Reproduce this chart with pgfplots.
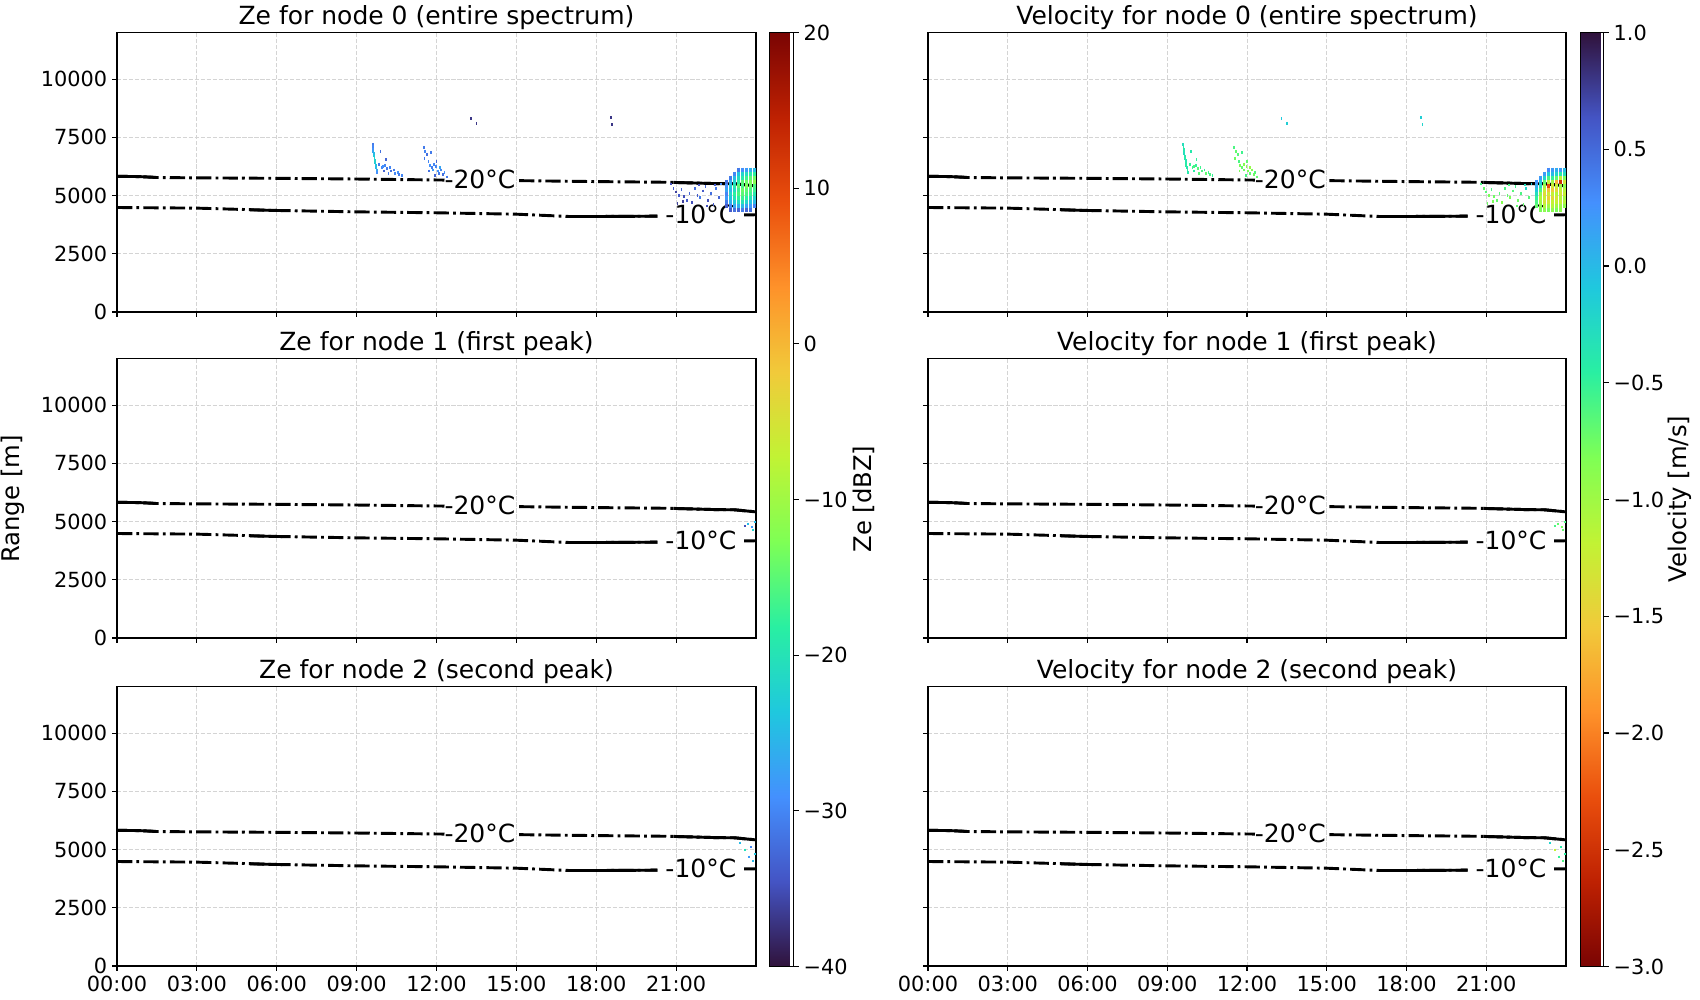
\documentclass[border=0pt]{standalone}
\usepackage{fontspec}
\setmainfont{DejaVu Sans}
\usepackage{pgfplots}
\usepackage{pgfplotstable}
\pgfplotsset{compat=1.18}

\newcommand{\ticksize}{\fontsize{15}{18}\selectfont}
\newcommand{\titlesize}{\fontsize{18}{21}\selectfont}
\newcommand{\labsize}{\fontsize{17.5}{21}\selectfont}
\newcommand{\clabsize}{\fontsize{18}{21}\selectfont}

\pgfplotsset{
  colormap={turbo}{rgb255(0cm)=(48,18,59); rgb255(1cm)=(68,84,196); rgb255(2cm)=(68,144,254);
    rgb255(3cm)=(31,200,222); rgb255(4cm)=(41,239,162); rgb255(5cm)=(126,255,85);
    rgb255(6cm)=(193,243,52); rgb255(7cm)=(241,202,58); rgb255(8cm)=(254,146,42);
    rgb255(9cm)=(234,79,13); rgb255(10cm)=(190,33,2); rgb255(11cm)=(122,4,3)},
  colormap={turbor}{rgb255(0cm)=(122,4,3); rgb255(1cm)=(190,33,2); rgb255(2cm)=(234,79,13);
    rgb255(3cm)=(254,146,42); rgb255(4cm)=(241,202,58); rgb255(5cm)=(193,243,52);
    rgb255(6cm)=(126,255,85); rgb255(7cm)=(41,239,162); rgb255(8cm)=(31,200,222);
    rgb255(9cm)=(68,144,254); rgb255(10cm)=(68,84,196); rgb255(11cm)=(48,18,59)},
  panel/.style={
    scale only axis, height=201.2pt,
    xmin=0, xmax=24, ymin=0, ymax=12000,
    scaled y ticks=false, scaled x ticks=false,
    xtick={0,3,...,21}, ytick={0,2500,5000,7500,10000},
    xticklabels={}, yticklabels={},
    grid=major,
    major grid style={dash pattern=on 3pt off 1.3pt, color=black!17, line width=0.7pt},
    tick align=outside, tick pos=left, major tick length=3.5pt,
    axis line style={line width=0.8pt},
    every tick/.style={line width=0.8pt, black},
    ticklabel style={font=\ticksize},
    title style={font=\titlesize, yshift=-7.8pt},
    /pgf/number format/assume math mode=true,
    clip=true,
  },
  radar/.style={scatter, only marks, mark=|,
    every mark/.append style={line width=1.3pt},
    scatter/use mapped color={draw=mapped color, fill=mapped color}},
  iso/.style={black, line width=2.1pt, dash pattern=on 11pt off 3pt on 2pt off 3pt},
  isos/.style={black, line width=2.1pt},
  leftlab/.style={yticklabels={0,2500,5000,7500,10000}},
  botlab/.style={xticklabels={00:00,03:00,06:00,09:00,12:00,15:00,18:00,21:00}},
  ze/.style={colormap name=turbo, point meta min=-40, point meta max=20},
  vel/.style={colormap name=turbor, point meta min=-3, point meta max=1},
}

\newcommand{\isotherms}{%
  \addplot[iso] coordinates {(0,5825)(0.8,5815)(1.5,5775)(3,5760)(6,5740)(9,5710)(12.3,5665)};
  \addplot[iso] coordinates {(15.1,5640)(18,5600)(20.7,5570)(22.5,5513)(23.2,5505)(24,5415)};
  \addplot[isos] coordinates {(0,5825)(0.8,5815)(1.4,5785)};
  \addplot[isos] coordinates {(20.9,5565)(22.5,5513)(23.2,5505)(24,5415)};
  \addplot[iso] coordinates {(0,4487)(3,4460)(6,4360)(9,4300)(12,4260)(15,4200)(17,4100)(18,4100)(20.3,4115)};
  \addplot[isos] coordinates {(5.0,4385)(6.2,4355)};
  \addplot[isos] coordinates {(17.0,4100)(18,4100)(20.3,4115)};
  \addplot[iso] coordinates {(23.55,4168)(24,4175)};
  \node[font=\clabsize, inner sep=0pt] at (axis cs:13.63,5700) {-20°C};
  \node[font=\clabsize, inner sep=0pt] at (axis cs:21.93,4180) {-10°C};
}

% node 0 : sparse pixels  (time [h], range [m], Ze [dBZ], velocity [m/s])
\pgfplotstableread{
x y ze vel
9.60 7200 -31 -0.30
9.61 7100 -30 -0.35
9.62 7000 -29 -0.40
9.63 6900 -27 -0.35
9.64 6800 -25 -0.30
9.66 6700 -23 -0.38
9.67 6600 -22 -0.42
9.69 6500 -22 -0.36
9.70 6400 -23 -0.40
9.72 6300 -24 -0.45
9.74 6200 -25 -0.38
9.76 6100 -27 -0.42
9.78 6000 -29 -0.40
9.85 6350 -31 -0.50
9.95 6200 -30 -0.55
10.00 6250 -29 -0.60
10.08 6300 -30 -0.50
10.15 6150 -31 -0.65
10.25 6200 -30 -0.55
10.30 6050 -32 -0.60
10.40 6100 -31 -0.50
10.45 5950 -30 -0.70
10.55 6000 -29 -0.55
10.60 5900 -31 -0.60
10.70 5850 -30 -0.50
10.02 6050 -33 -0.45
10.20 5950 -31 -0.65
9.90 6900 -32 -0.40
10.10 6550 -33 -0.50
11.52 7050 -31 -0.60
11.58 6900 -30 -0.70
11.65 6750 -32 -0.65
11.55 6600 -31 -0.75
11.70 6450 -30 -0.60
11.75 6300 -29 -0.80
11.82 6200 -31 -0.70
11.90 6350 -30 -0.85
11.88 6100 -28 -0.75
11.98 6250 -30 -0.90
12.05 6050 -29 -0.80
12.10 5950 -31 -0.70
12.18 6100 -30 -0.85
12.25 5900 -32 -0.75
12.30 6000 -29 -0.65
12.38 5800 -31 -0.70
11.95 5850 -33 -0.60
11.72 6050 -32 -0.80
12.12 6200 -27 -0.95
12.00 6450 -33 -0.70
11.80 6850 -31 -0.55
13.30 8300 -37 -0.10
13.50 8100 -37 -0.15
18.60 8050 -37 -0.20
18.55 8350 -37 -0.15
20.80 5500 -35 -0.60
20.90 5300 -34 -0.70
21.00 5150 -36 -0.65
21.10 5000 -34 -0.80
21.20 5250 -33 -0.60
21.30 4950 -35 -0.75
21.40 4800 -34 -0.70
21.50 5100 -33 -0.65
21.60 4700 -35 -0.85
21.70 5300 -32 -0.60
21.80 5000 -34 -0.70
21.90 4900 -31 -0.80
22.00 5200 -34 -0.65
22.10 5400 -33 -0.55
22.20 4800 -35 -0.75
22.30 5100 -32 -0.60
22.40 4600 -34 -0.70
22.50 5300 -31 -0.20
22.60 4900 -33 -0.65
22.70 5500 -30 -0.10
21.25 4750 -36 -0.80
22.45 5450 -34 -0.30
21.85 5450 -35 -0.60
21.05 4650 -36 -0.75
22.15 4550 -35 -0.70
}\zeroA

% node 0 : dense patch at the end of the day
\pgfplotstableread{
x y ze vel
22.90 4570 -34 -0.70
22.90 4740 -31 -0.60
22.90 4910 -28 -0.50
22.90 5080 -30 -0.30
22.90 5250 -27 -0.10
22.90 5420 -29 0.10
22.90 5590 -32 0.25
23.05 4400 -34 -0.80
23.05 4570 -30 -0.90
23.05 4740 -26 -1.00
23.05 4910 -24 -1.10
23.05 5080 -22 -0.90
23.05 5250 -25 -0.60
23.05 5420 -23 -0.30
23.05 5590 -26 -0.10
23.05 5760 -31 0.20
23.20 4400 -32 -0.90
23.20 4570 -27 -1.10
23.20 4740 -23 -1.30
23.20 4910 -20 -1.20
23.20 5080 -18 -1.40
23.20 5250 -21 -1.20
23.20 5420 -19 -1.00
23.20 5590 -22 -0.70
23.20 5760 -25 -0.20
23.20 5930 -30 0.20
23.35 4400 -33 -0.80
23.35 4570 -26 -1.00
23.35 4740 -21 -1.30
23.35 4910 -18 -1.50
23.35 5080 -16 -1.30
23.35 5250 -17 -1.60
23.35 5420 -15 -2.30
23.35 5590 -18 -1.20
23.35 5760 -21 -0.60
23.35 5930 -24 -0.10
23.35 6100 -31 0.30
23.50 4400 -31 -0.90
23.50 4570 -25 -1.10
23.50 4740 -20 -1.20
23.50 4910 -17 -1.40
23.50 5080 -15 -1.20
23.50 5250 -14 -1.50
23.50 5420 -16 -1.30
23.50 5590 -15 -1.00
23.50 5760 -19 -0.50
23.50 5930 -22 0.00
23.50 6100 -29 0.20
23.65 4400 -33 -0.80
23.65 4570 -27 -1.00
23.65 4740 -22 -1.20
23.65 4910 -18 -1.30
23.65 5080 -16 -1.10
23.65 5250 -15 -1.40
23.65 5420 -13 -1.20
23.65 5590 -14 -1.70
23.65 5760 -17 -0.70
23.65 5930 -21 -0.20
23.65 6100 -28 0.10
23.80 4400 -32 -0.90
23.80 4570 -28 -1.00
23.80 4740 -24 -1.20
23.80 4910 -20 -1.10
23.80 5080 -17 -1.30
23.80 5250 -16 -1.20
23.80 5420 -14 -1.00
23.80 5590 -13 -2.50
23.80 5760 -15 -1.20
23.80 5930 -19 -0.40
23.80 6100 -26 0.20
23.95 4570 -30 -0.90
23.95 4740 -25 -1.10
23.95 4910 -22 -1.00
23.95 5080 -19 -1.20
23.95 5250 -17 -1.10
23.95 5420 -16 -0.90
23.95 5590 -12 -1.30
23.95 5760 -14 -0.80
23.95 5930 -18 -0.30
23.95 6100 -25 0.00
}\zeroB

\pgfplotstableread{
x y ze vel
23.60 4800 -35 -0.60
23.70 4900 -25 -0.70
23.85 4750 -28 -0.80
23.90 4650 -22 -0.70
23.95 5000 -25 -0.60
}\one

\pgfplotstableread{
x y ze vel
23.40 5300 -25 -0.20
23.60 5000 -20 -1.20
23.75 4700 -28 -0.50
23.90 4500 -25 -0.60
23.80 5100 -30 -0.40
23.95 4800 -24 -0.45
}\two

\begin{document}
\begin{tikzpicture}
\useasboundingbox (0,0) rectangle (1224pt,720pt);

% ---------------- left column: Ze ----------------
\begin{axis}[panel, ze, leftlab, width=460.08pt, at={(84.24pt,495.36pt)}, anchor=south west,
  title={Ze for node 0 (entire spectrum)},
  colorbar,
  colorbar style={at={(parent axis.north east)}, anchor=north west, xshift=1.44pt,
    scale only axis, width=17.28pt, height=672.48pt,
    xtick=\empty, ytick={-40,-30,...,20},
    yticklabels={−40,−30,−20,−10,0,10,20},
    yticklabel pos=right, ytick pos=right, tick align=outside, major tick length=3.5pt,
    yticklabel style={font=\ticksize},
    axis line style={line width=0.8pt}, every tick/.style={line width=0.8pt, black}}]
  \addplot[radar, mark size=1.0pt, point meta=\thisrow{ze}] table[x=x,y=y] {\zeroA};
  \addplot[radar, mark size=1.6pt, every mark/.append style={line width=2.2pt}, point meta=\thisrow{ze}] table[x=x,y=y] {\zeroB};
  \isotherms
\end{axis}

\begin{axis}[panel, ze, leftlab, width=460.08pt, at={(84.24pt,260.64pt)}, anchor=south west,
  title={Ze for node 1 (first peak)}]
  \addplot[radar, mark size=0.7pt, point meta=\thisrow{ze}] table[x=x,y=y] {\one};
  \isotherms
\end{axis}

\begin{axis}[panel, ze, leftlab, botlab, width=460.08pt, at={(84.24pt,24.48pt)}, anchor=south west,
  title={Ze for node 2 (second peak)}]
  \addplot[radar, mark size=0.7pt, point meta=\thisrow{ze}] table[x=x,y=y] {\two};
  \isotherms
\end{axis}

% ---------------- right column: velocity ----------------
\begin{axis}[panel, vel, width=459.36pt, at={(668.16pt,495.36pt)}, anchor=south west,
  title={Velocity for node 0 (entire spectrum)},
  colorbar,
  colorbar style={at={(parent axis.north east)}, anchor=north west, xshift=2.16pt,
    scale only axis, width=16.56pt, height=672.48pt,
    xtick=\empty, ytick={-3,-2.5,...,1},
    yticklabels={−3.0,−2.5,−2.0,−1.5,−1.0,−0.5,0.0,0.5,1.0},
    yticklabel pos=right, ytick pos=right, tick align=outside, major tick length=3.5pt,
    yticklabel style={font=\ticksize},
    axis line style={line width=0.8pt}, every tick/.style={line width=0.8pt, black}}]
  \addplot[radar, mark size=1.0pt, point meta=\thisrow{vel}] table[x=x,y=y] {\zeroA};
  \addplot[radar, mark size=1.6pt, every mark/.append style={line width=2.2pt}, point meta=\thisrow{vel}] table[x=x,y=y] {\zeroB};
  \isotherms
\end{axis}

\begin{axis}[panel, vel, width=459.36pt, at={(668.16pt,260.64pt)}, anchor=south west,
  title={Velocity for node 1 (first peak)}]
  \addplot[radar, mark size=0.7pt, point meta=\thisrow{vel}] table[x=x,y=y] {\one};
  \isotherms
\end{axis}

\begin{axis}[panel, vel, botlab, width=459.36pt, at={(668.16pt,24.48pt)}, anchor=south west,
  title={Velocity for node 2 (second peak)}]
  \addplot[radar, mark size=0.7pt, point meta=\thisrow{vel}] table[x=x,y=y] {\two};
  \isotherms
\end{axis}

% axis labels
\node[font=\labsize, rotate=90] at (9.4pt,360.7pt) {Range [m]};
\node[font=\labsize, rotate=90] at (622pt,360.7pt) {Ze [dBZ]};
\node[font=\labsize, rotate=90] at (1209.6pt,360.7pt) {Velocity [m/s]};
\end{tikzpicture}
\end{document}
